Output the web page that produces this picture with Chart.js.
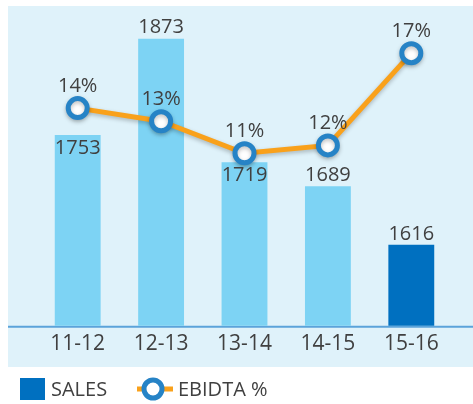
<!DOCTYPE html>
<html lang="en">
<head>
    <meta charset="UTF-8">
    <title>Sales and EBIDTA</title>
    <script src="https://cdn.jsdelivr.net/npm/chart.js@4.4.1/dist/chart.umd.min.js"></script>
    <style>
        html, body {
            margin: 0;
            padding: 0;
            background: #ffffff;
            width: 473px;
            height: 404px;
            overflow: hidden;
        }

        .panel {
            position: absolute;
            left: 8px;
            top: 6px;
            width: 465px;
            height: 361px;
            background: #dff2fa;
        }

        .wrap {
            position: absolute;
            left: 0;
            top: 0;
            width: 473px;
            height: 404px;
        }
    </style>
</head>
<body>
    <div class="panel"></div>
    <div class="wrap"><canvas id="chart" width="473" height="404"></canvas></div>

    <script>
        'use strict';

        const years = ['11-12', '12-13', '13-14', '14-15', '15-16'];
        const sales = [1753, 1873, 1719, 1689, 1616];
        // EBIDTA % (labels show rounded values)
        const ebidta = [13.75, 13.04, 11.3, 11.73, 16.73];

        // where the sales label sits: inside the top of the bar or above it
        const salesLabelPos = ['in', 'out', 'in', 'out', 'out'];

        const lightBar = '#7dd3f4';
        const darkBar = '#0070c0';
        const textColor = '#404040';
        const fontFamily = '"Open Sans", sans-serif';

        // axis line across the whole panel
        const axisLinePlugin = {
            id: 'axisLine',
            beforeDatasetsDraw(chart) {
                const ctx = chart.ctx;
                const y = chart.chartArea.bottom;
                ctx.save();
                ctx.strokeStyle = '#5ba3da';
                ctx.lineWidth = 2;
                ctx.beginPath();
                ctx.moveTo(8, y + 1);
                ctx.lineTo(473, y + 1);
                ctx.stroke();
                ctx.restore();
            }
        };

        // draws the value labels and the legend
        const labelsPlugin = {
            id: 'labels',
            afterDatasetsDraw(chart) {
                const ctx = chart.ctx;
                ctx.save();
                ctx.fillStyle = textColor;
                ctx.font = '20px ' + fontFamily;
                ctx.textAlign = 'center';

                const bars = chart.getDatasetMeta(1).data;
                bars.forEach((bar, i) => {
                    if (salesLabelPos[i] === 'in') {
                        ctx.textBaseline = 'top';
                        ctx.fillText(sales[i], bar.x, bar.y + 3);
                    } else {
                        ctx.textBaseline = 'bottom';
                        ctx.fillText(sales[i], bar.x, bar.y - 1);
                    }
                });

                const pts = chart.getDatasetMeta(0).data;
                ctx.textBaseline = 'bottom';
                pts.forEach((p, i) => {
                    ctx.fillText(Math.round(ebidta[i]) + '%', p.x, p.y - 12);
                });

                // legend
                const ly = 389;
                ctx.fillStyle = darkBar;
                ctx.fillRect(20, 378, 25, 22);
                ctx.fillStyle = textColor;
                ctx.textAlign = 'left';
                ctx.textBaseline = 'middle';
                ctx.fillText('SALES', 51, ly + 1);

                ctx.strokeStyle = '#f9a11b';
                ctx.lineWidth = 5;
                ctx.beginPath();
                ctx.moveTo(137, ly);
                ctx.lineTo(173, ly);
                ctx.stroke();
                ctx.beginPath();
                ctx.arc(153, ly, 9, 0, Math.PI * 2);
                ctx.fillStyle = '#ffffff';
                ctx.fill();
                ctx.strokeStyle = '#2683c6';
                ctx.lineWidth = 5;
                ctx.stroke();

                ctx.fillStyle = textColor;
                ctx.fillText('EBIDTA %', 178, ly + 1);
                ctx.restore();
            }
        };

        // soft shadow under the orange line
        const shadowPlugin = {
            id: 'lineShadow',
            beforeDatasetDraw(chart, args) {
                if (args.index === 0) {
                    chart.ctx.save();
                    chart.ctx.shadowColor = 'rgba(0, 0, 0, 0.25)';
                    chart.ctx.shadowBlur = 4;
                    chart.ctx.shadowOffsetY = 2;
                }
            },
            afterDatasetDraw(chart, args) {
                if (args.index === 0) chart.ctx.restore();
            }
        };

        const ctx = document.getElementById('chart').getContext('2d');
        new Chart(ctx, {
            data: {
                labels: years,
                datasets: [{
                    type: 'line',
                    label: 'EBIDTA %',
                    data: ebidta,
                    yAxisID: 'y2',
                    borderColor: '#f9a11b',
                    borderWidth: 5,
                    pointRadius: 9.5,
                    pointBorderWidth: 5,
                    pointBorderColor: '#2683c6',
                    pointBackgroundColor: '#ffffff',
                    tension: 0,
                    clip: false,
                    order: 0
                }, {
                    type: 'bar',
                    label: 'SALES',
                    data: sales,
                    yAxisID: 'y',
                    backgroundColor: sales.map((v, i) => i === sales.length - 1 ? darkBar : lightBar),
                    categoryPercentage: 1,
                    barPercentage: 0.55,
                    order: 1
                }]
            },
            options: {
                responsive: false,
                animation: false,
                layout: { autoPadding: false, padding: { left: 36, right: 20, top: 5, bottom: 41 } },
                plugins: {
                    legend: { display: false },
                    tooltip: { enabled: false }
                },
                scales: {
                    x: {
                        grid: { display: false, drawTicks: false },
                        border: { display: false },
                        ticks: {
                            color: textColor,
                            padding: 6,
                            font: { family: fontFamily, size: 21 }
                        }
                    },
                    y: { display: false, min: 1515, max: 1915 },
                    y2: { display: false, position: 'right', min: 1.95, max: 19.34 }
                }
            },
            plugins: [axisLinePlugin, shadowPlugin, labelsPlugin]
        });
    </script>
</body>
</html>
